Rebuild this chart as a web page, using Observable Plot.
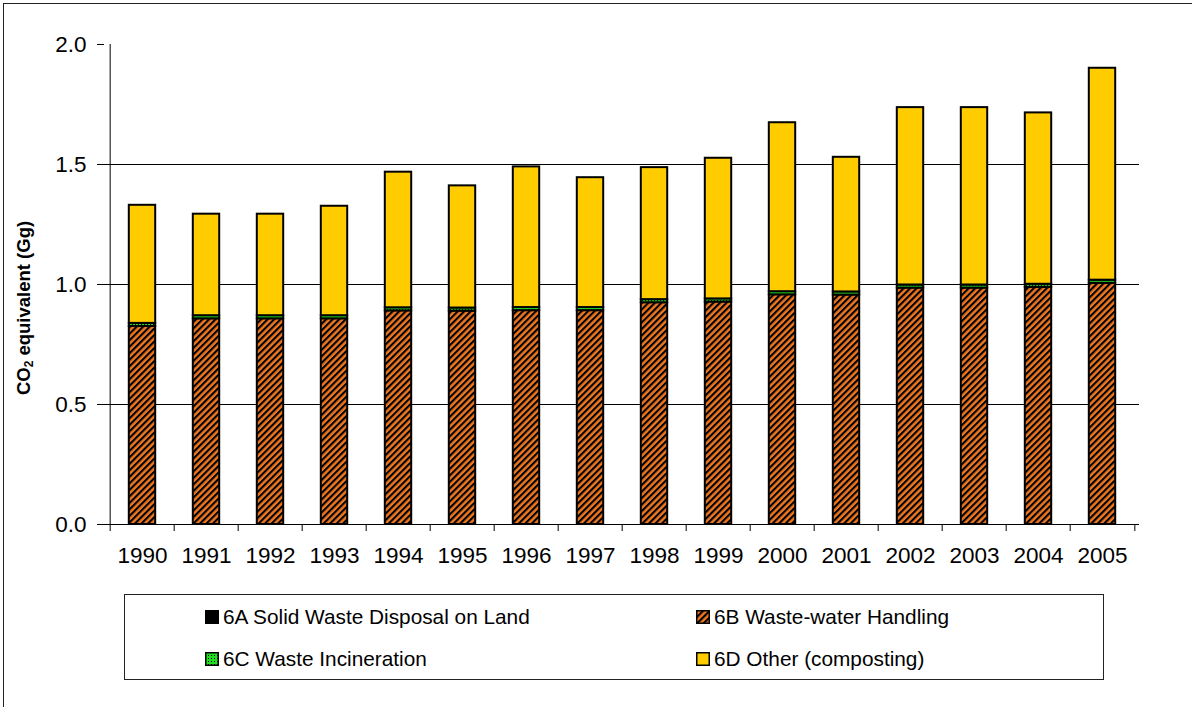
<!DOCTYPE html>
<html>
<head>
<meta charset="utf-8">
<script src="https://cdn.jsdelivr.net/npm/d3@7"></script>
<script src="https://cdn.jsdelivr.net/npm/@observablehq/plot@0.6"></script>
<style>
  html, body { margin: 0; padding: 0; background: #fff; }
  #wrap { position: relative; width: 1192px; height: 707px; overflow: hidden; font-family: "Liberation Sans", Arial, sans-serif; color: #000; }
  #frame { position: absolute; left: 3px; top: 3px; width: 1192px; height: 706px; border: 1px solid #222; box-sizing: border-box; pointer-events: none; }
  #chart { position: absolute; left: 0; top: 0; }
  #ylabel { position: absolute; left: 24px; top: 308px; transform: translate(-50%, -50%) rotate(-90deg); font-weight: bold; font-size: 18.5px; white-space: nowrap; }
  #ylabel sub { font-size: 12px; vertical-align: -3px; line-height: 0; }
  #legend { position: absolute; left: 124px; top: 594px; width: 980px; height: 86px; border: 1px solid #222; box-sizing: border-box; }
  .item { position: absolute; font-size: 20.8px; white-space: nowrap; display: flex; align-items: center; }
  .item svg { margin-right: 4px; }
</style>
</head>
<body>
<div id="wrap">
  <div id="chart"></div>
  <div id="ylabel">CO<sub>2</sub> equivalent (Gg)</div>
  <div id="legend"></div>
  <div id="frame"></div>
</div>
<script>
const years = ["1990","1991","1992","1993","1994","1995","1996","1997","1998","1999","2000","2001","2002","2003","2004","2005"];
const seriesNames = ["6A Solid Waste Disposal on Land", "6B Waste-water Handling", "6C Waste Incineration", "6D Other (composting)"];
const seriesFills = ["#000000", "url(#p6B)", "url(#p6C)", "#FFCC00"];
const s6A = [0, 0, 0, 0, 0, 0, 0, 0, 0, 0, 0, 0, 0, 0, 0, 0];
const s6B = [0.825, 0.857, 0.857, 0.857, 0.890, 0.889, 0.891, 0.891, 0.924, 0.927, 0.957, 0.956, 0.985, 0.985, 0.988, 1.005];
const s6C = [0.013, 0.013, 0.013, 0.013, 0.013, 0.013, 0.013, 0.013, 0.013, 0.013, 0.013, 0.013, 0.013, 0.013, 0.013, 0.013];
const s6D = [0.492, 0.423, 0.423, 0.456, 0.565, 0.509, 0.586, 0.541, 0.550, 0.586, 0.704, 0.561, 0.739, 0.739, 0.714, 0.883];
const yTicks = [0, 0.5, 1.0, 1.5, 2.0];
const gridValues = [0.5, 1.0, 1.5];

const seriesValues = [s6A, s6B, s6C, s6D];
const rows = [];
years.forEach((year, i) => {
  seriesNames.forEach((name, k) => rows.push({year, series: name, value: seriesValues[k][i]}));
});

const W = 1192, H = 707;
const mL = 104, mR = 53, mT = 44, mB = 183;
const half = (W - mL - mR) / years.length / 2;
const FS = 22.5;

const svg = Plot.plot({
  width: W, height: H,
  marginTop: mT, marginBottom: mB, marginLeft: mL, marginRight: mR,
  style: {fontFamily: "'Liberation Sans', Arial, sans-serif", fontSize: FS + "px", color: "#000", background: "transparent", overflow: "visible"},
  x: {domain: years, padding: 0, axis: null},
  y: {domain: [0, 2], axis: null},
  color: {domain: seriesNames, range: seriesFills},
  marks: [
    Plot.ruleY(gridValues, {stroke: "#000", strokeWidth: 1}),
    Plot.barY(rows, {x: "year", y: "value", fill: "series", order: seriesNames, stroke: "#000", strokeWidth: 2, insetLeft: 18.8, insetRight: 18.8}),
    Plot.ruleY([0], {stroke: "#000"}),
    Plot.ruleX([years[0]], {y1: 0, y2: 2, dx: -half, stroke: "#000"}),
    Plot.axisY({ticks: yTicks, tickFormat: d => d.toFixed(1), tickSize: 7, tickPadding: 11, label: null, fontSize: FS}),
    Plot.axisX({tickSize: 0, tickPadding: 23, label: null, fontSize: FS}),
    Plot.axisX({tickSize: 7, tickFormat: () => "", dx: -half, label: null}),
    Plot.axisX([years[years.length - 1]], {tickSize: 7, tickFormat: () => "", dx: half, label: null})
  ]
});

const defs = d3.select(svg).insert("defs", ":first-child");
const pB = defs.append("pattern").attr("id", "p6B").attr("patternUnits", "userSpaceOnUse")
  .attr("width", 4.6).attr("height", 4.6).attr("patternTransform", "rotate(45)");
pB.append("rect").attr("width", 4.6).attr("height", 4.6).attr("fill", "#EE7722");
pB.append("rect").attr("width", 2.1).attr("height", 4.6).attr("fill", "#000");
const pC = defs.append("pattern").attr("id", "p6C").attr("patternUnits", "userSpaceOnUse")
  .attr("width", 3).attr("height", 3);
pC.append("rect").attr("width", 3).attr("height", 3).attr("fill", "#22DD22");
pC.append("rect").attr("width", 1).attr("height", 1).attr("fill", "#000");

document.getElementById("chart").appendChild(svg);

// legend
const legend = document.getElementById("legend");
const positions = [
  {left: 80, top: 22}, {left: 571, top: 22},
  {left: 80, top: 64}, {left: 571, top: 64}
];
seriesNames.forEach((name, k) => {
  const d = document.createElement("div");
  d.className = "item";
  d.style.left = positions[k].left + "px";
  d.style.top = (positions[k].top - 12) + "px";
  d.innerHTML = `<svg width="14" height="14"><rect x="0.75" y="0.75" width="12.5" height="12.5" fill="${seriesFills[k]}" stroke="#000" stroke-width="1.5"/></svg><span>${name}</span>`;
  legend.appendChild(d);
});
</script>
</body>
</html>
